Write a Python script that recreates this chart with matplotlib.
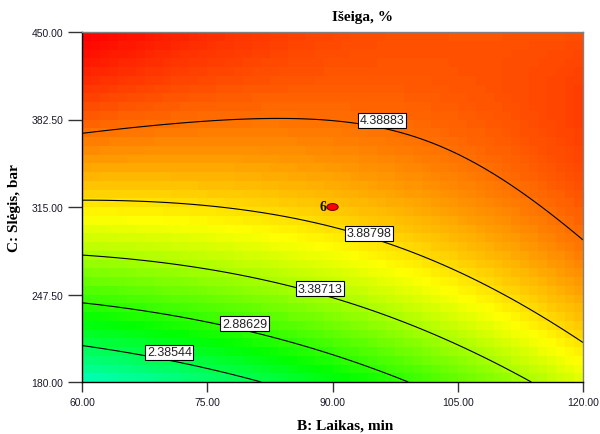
import numpy as np
import matplotlib
matplotlib.use("Agg")
import matplotlib.pyplot as plt
from matplotlib.colors import LinearSegmentedColormap
from matplotlib.patches import Ellipse

# ---- data ----
title = "Išeiga, %"
x_label = "B: Laikas, min"
y_label = "C: Slėgis, bar"
x_ticks = [60.0, 75.0, 90.0, 105.0, 120.0]
y_ticks = [180.0, 247.5, 315.0, 382.5, 450.0]
# quadratic response-surface model in coded units
coef_b0 = 4.005
coef_B = 0.33
coef_C = 0.98
coef_BC = -0.52
coef_BB = 0.155
coef_CC = -0.41
contour_levels = [2.38544, 2.88629, 3.38713, 3.88798, 4.38883]
design_B = [90.0]
design_C = [315.0]
design_reps = ["6"]
color_values = [0.5, 1.65, 2.7, 3.75, 4.9]
color_list = ["#0000ff", "#00ffff", "#00ff00", "#ffff00", "#ff0000"]

# layout: where the contour label boxes sit (data coords)
LABEL_XY = [(70.46, 202.9), (79.46, 225.0), (88.54, 251.9),
            (94.34, 294.8), (95.93, 382.1)]


def response(B, C):
    x = (B - 90.0) / 30.0
    y = (C - 315.0) / 135.0
    return (coef_b0 + coef_B * x + coef_C * y + coef_BC * x * y
            + coef_BB * x ** 2 + coef_CC * y ** 2)


vmin, vmax = color_values[0], color_values[-1]
nodes = [(v - vmin) / (vmax - vmin) for v in color_values]
cmap = LinearSegmentedColormap.from_list("de", list(zip(nodes, color_list)))

fig = plt.figure(figsize=(6.0, 4.35), dpi=100)
ax = fig.add_axes([82 / 600, 1 - 383 / 435, 501 / 600, 350 / 435])

# blocky colour field
nx, ny = 56, 40
be = np.linspace(x_ticks[0], x_ticks[-1], nx + 1)
ce = np.linspace(y_ticks[0], y_ticks[-1], ny + 1)
bc = 0.5 * (be[:-1] + be[1:])
cc = 0.5 * (ce[:-1] + ce[1:])
BB, CC = np.meshgrid(bc, cc)
ax.pcolormesh(be, ce, response(BB, CC), cmap=cmap, vmin=vmin, vmax=vmax,
              shading="flat", rasterized=True)

# contour lines
bf = np.linspace(x_ticks[0], x_ticks[-1], 400)
cf = np.linspace(y_ticks[0], y_ticks[-1], 400)
BF, CF = np.meshgrid(bf, cf)
cs = ax.contour(BF, CF, response(BF, CF), levels=contour_levels,
                colors="black", linewidths=0.8)
fmt = {lv: f"{lv:.5f}" for lv in contour_levels}
labels = ax.clabel(cs, levels=contour_levels, fmt=fmt, inline=False,
                   fontsize=9, manual=LABEL_XY)
for t in labels:
    txt = t.get_text()
    idx = [fmt[lv] for lv in contour_levels].index(txt)
    t.set_position(LABEL_XY[idx])
    t.set_rotation(0)
    t.set_ha("center")
    t.set_va("center")
    t.set_fontfamily("Liberation Sans")
    t.set_color("#222222")
    t.set_bbox(dict(boxstyle="square,pad=0.12", fc="white", ec="black", lw=0.8))
    t.set_zorder(5)

# design point
for b, c, r in zip(design_B, design_C, design_reps):
    ax.add_patch(Ellipse((b, c), width=1.35, height=5.3, fc="#ff0000",
                         ec="#7a0000", lw=0.8, zorder=6))
    ax.annotate(r, (b, c), xytext=(-4.5, 0.5), textcoords="offset points",
                ha="right", va="center", fontsize=10, fontweight="bold",
                family="Liberation Serif", color="#111111", zorder=6)

ax.set_xlim(x_ticks[0], x_ticks[-1])
ax.set_ylim(y_ticks[0], y_ticks[-1])
ax.set_xticks(x_ticks)
ax.set_yticks(y_ticks)
ax.set_xticklabels([f"{v:.2f}" for v in x_ticks], family="Liberation Sans",
                   fontsize=7.5, color="#1a1a2a")
ax.set_yticklabels([f"{v:.2f}" for v in y_ticks], family="Liberation Sans",
                   fontsize=7.5, color="#1a1a2a")
ax.tick_params(axis="x", length=7, width=1, color="#333333", pad=4)
ax.tick_params(axis="y", length=10, width=1, color="#333333", pad=3.5)
for s in ["left", "bottom"]:
    ax.spines[s].set_color("black")
    ax.spines[s].set_linewidth(1)
for s in ["top", "right"]:
    ax.spines[s].set_color("#808080")
    ax.spines[s].set_linewidth(1)

fig.text(345 / 600, 1 - 426 / 435, x_label, ha="center", va="center",
         family="Liberation Serif", fontweight="bold", fontsize=11)
fig.text(15 / 600, 1 - 208 / 435, y_label, ha="center", va="center",
         rotation=90, family="Liberation Serif", fontweight="bold", fontsize=11)
fig.text(362 / 600, 1 - 18 / 435, title, ha="center", va="center",
         family="Liberation Serif", fontweight="bold", fontsize=11)

fig.savefig("out.png", dpi=100)
